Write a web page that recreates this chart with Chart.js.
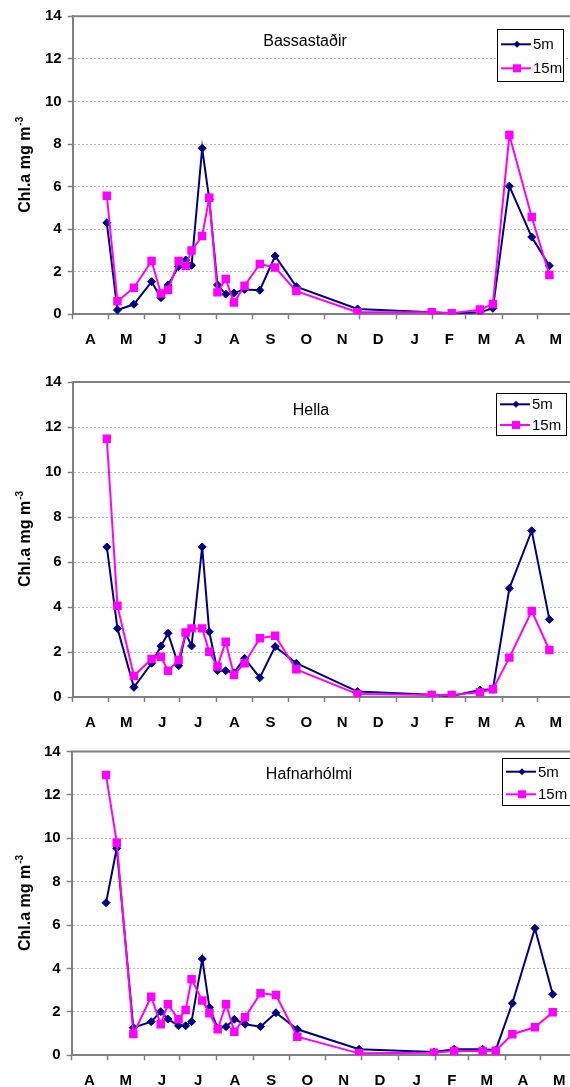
<!DOCTYPE html>
<html><head><meta charset="utf-8">
<script src="https://cdn.jsdelivr.net/npm/chart.js@4"></script>
<style>
html,body{margin:0;padding:0;background:#fff;overflow:hidden;width:570px;height:1087px;position:relative}
canvas{position:absolute;left:0}
</style></head><body>
<canvas id="c1"></canvas><canvas id="c2"></canvas><canvas id="c3"></canvas>
<script>
// ---- data ----
const sampleDays = [29, 38, 52, 67, 75, 81, 90, 96, 101, 110, 116, 123, 130, 137, 146, 159, 172, 190, 242, 305, 322, 346, 357, 371, 390, 405];
const monthStarts = [0, 30, 61, 91, 122, 153, 183, 214, 244, 275, 306, 334, 365, 395, 426];
const monthLabels = ['A','M','J','J','A','S','O','N','D','J','F','M','A','M'];
const seriesNames = ['5m', '15m'];
const stations = ['Bassastaðir', 'Hella', 'Hafnarhólmi'];
const yTitle = 'Chl.a mg m';
const yTitleSup = '-3';

const bassastadir5m  = [4.3, 0.2, 0.47, 1.53, 0.78, 1.38, 2.24, 2.55, 2.3, 7.8, 5.4, 1.38, 0.95, 1.0, 1.17, 1.13, 2.74, 1.3, 0.25, 0.1, 0.05, 0.1, 0.28, 6.02, 3.63, 2.28];
const bassastadir15m = [5.57, 0.61, 1.25, 2.5, 0.98, 1.14, 2.5, 2.27, 3.0, 3.68, 5.47, 1.03, 1.66, 0.55, 1.34, 2.36, 2.2, 1.09, 0.1, 0.1, 0.05, 0.22, 0.48, 8.42, 4.57, 1.85];
const hella5m  = [6.67, 3.05, 0.43, 1.5, 2.27, 2.83, 1.39, 2.83, 2.27, 6.67, 2.9, 1.17, 1.17, 1.08, 1.72, 0.86, 2.24, 1.5, 0.24, 0.1, 0.05, 0.31, 0.34, 4.83, 7.39, 3.45];
const hella15m = [11.48, 4.06, 0.93, 1.69, 1.79, 1.17, 1.64, 2.87, 3.05, 3.05, 2.01, 1.35, 2.46, 0.98, 1.5, 2.61, 2.72, 1.23, 0.13, 0.09, 0.09, 0.21, 0.34, 1.75, 3.82, 2.09];
const hafnarholmi5m  = [7.03, 9.54, 1.27, 1.55, 2.01, 1.67, 1.36, 1.36, 1.55, 4.44, 2.21, 1.24, 1.32, 1.66, 1.43, 1.32, 1.96, 1.2, 0.28, 0.15, 0.28, 0.28, 0.24, 2.4, 5.85, 2.81];
const hafnarholmi15m = [12.92, 9.8, 0.98, 2.7, 1.43, 2.35, 1.66, 2.09, 3.5, 2.52, 1.94, 1.2, 2.35, 1.09, 1.75, 2.86, 2.78, 0.86, 0.09, 0.12, 0.2, 0.2, 0.21, 0.97, 1.29, 1.98];

// ---- layout (page coordinates) ----
const panels = [
  {id:'c1', station:stations[0], v5:bassastadir5m, v15:bassastadir15m, top:0, h:365, w:610,
   plotTop:16.3, plotBottom:314.3, plotLeft:72.7, ppd:1.177, titleX:305, titleY:42,
   legend:{x:497, y:29, w:66, h:52, r1:44.3, r2:68.3}},
  {id:'c2', station:stations[1], v5:hella5m, v15:hella15m, top:360, h:380, w:610,
   plotTop:382, plotBottom:697, plotLeft:72.7, ppd:1.177, titleX:311, titleY:411,
   legend:{x:496, y:393, w:70, h:42, r1:404.3, r2:425}},
  {id:'c3', station:stations[2], v5:hafnarholmi5m, v15:hafnarholmi15m, top:725, h:362, w:610,
   plotTop:751.5, plotBottom:1055.3, plotLeft:71.6, ppd:1.188, titleX:309, titleY:775,
   legend:{x:502, y:758, w:70, h:47, r1:771.7, r2:794.3}}
];

const FONT = '"Liberation Sans", Arial, Helvetica, sans-serif';
Chart.defaults.font.family = FONT;
const C5 = '#000080', C15 = '#ff00ff';
const lastDay = monthStarts[monthStarts.length - 1];

const xTickValues = [];
const labelAt = new Map();
for (let i = 0; i < monthStarts.length; i++) {
  xTickValues.push(monthStarts[i]);
  if (i < monthLabels.length) {
    const mid = (monthStarts[i] + monthStarts[i+1]) / 2;
    xTickValues.push(mid);
    labelAt.set(mid, monthLabels[i]);
  }
}
const startSet = new Set(monthStarts);

function makeDecor(p) {
  return {
    id: 'decor' + p.id,
    afterDatasetsDraw(chart) {
      const ctx = chart.ctx, a = chart.chartArea, t = p.top;
      ctx.save();
      ctx.strokeStyle = '#808080'; ctx.lineWidth = 2;
      ctx.beginPath(); ctx.moveTo(a.left - 1, a.top); ctx.lineTo(a.right, a.top); ctx.stroke();
      ctx.fillStyle = '#000';
      ctx.font = '16px ' + FONT;
      ctx.textAlign = 'center'; ctx.textBaseline = 'middle';
      ctx.fillText(p.station, p.titleX, p.titleY - t);
      ctx.save();
      ctx.translate(30, (a.top + a.bottom) / 2);
      ctx.rotate(-Math.PI / 2);
      ctx.font = 'bold 16px ' + FONT;
      const mw = ctx.measureText(yTitle).width;
      ctx.font = 'bold 10px ' + FONT;
      const sw = ctx.measureText(yTitleSup).width;
      const x0 = -(mw + sw) / 2;
      ctx.textAlign = 'left'; ctx.textBaseline = 'alphabetic';
      ctx.font = 'bold 16px ' + FONT;
      ctx.fillText(yTitle, x0, 0);
      ctx.font = 'bold 10px ' + FONT;
      ctx.fillText(yTitleSup, x0 + mw + 1, -7);
      ctx.restore();
      const L = p.legend;
      ctx.fillStyle = '#fff';
      ctx.fillRect(L.x, L.y - t, L.w, L.h);
      ctx.strokeStyle = '#000'; ctx.lineWidth = 1;
      ctx.strokeRect(Math.round(L.x) + 0.5, Math.round(L.y - t) + 0.5, L.w, L.h);
      const rows = [[L.r1, C5, 'd', seriesNames[0]], [L.r2, C15, 's', seriesNames[1]]];
      rows.forEach(([ry, col, shape, name]) => {
        const y = ry - t;
        ctx.strokeStyle = col; ctx.lineWidth = 2;
        ctx.beginPath(); ctx.moveTo(L.x + 4, y); ctx.lineTo(L.x + 34, y); ctx.stroke();
        ctx.fillStyle = col;
        const mx = L.x + 20;
        if (shape === 'd') {
          ctx.beginPath(); ctx.moveTo(mx, y - 3.5); ctx.lineTo(mx + 3.5, y); ctx.lineTo(mx, y + 3.5); ctx.lineTo(mx - 3.5, y); ctx.closePath(); ctx.fill();
        } else {
          ctx.fillRect(mx - 4, y - 4, 8, 8);
        }
        ctx.fillStyle = '#000';
        ctx.font = '15px ' + FONT;
        ctx.textAlign = 'left'; ctx.textBaseline = 'middle';
        ctx.fillText(name, L.x + 36, y + 1);
      });
      ctx.restore();
    }
  };
}

panels.forEach(p => {
  const cv = document.getElementById(p.id);
  cv.width = p.w; cv.height = p.h;
  cv.style.top = p.top + 'px';
  cv.style.width = p.w + 'px'; cv.style.height = p.h + 'px';
  const wantRight = p.plotLeft + lastDay * p.ppd;
  const wantTop = p.plotTop - p.top, wantBottom = p.plotBottom - p.top;
  p.yw = p.plotLeft;
  p.xh = p.h - wantBottom;
  const ch = new Chart(cv, {
    type: 'line',
    data: {
      datasets: [
        {label: seriesNames[0], data: sampleDays.map((d, i) => ({x: d, y: p.v5[i]})),
         borderColor: C5, backgroundColor: C5, borderWidth: 2, tension: 0,
         pointStyle: 'rectRot', pointRadius: 4, pointBorderWidth: 1,
         pointBackgroundColor: C5, pointBorderColor: C5, order: 1},
        {label: seriesNames[1], data: sampleDays.map((d, i) => ({x: d, y: p.v15[i]})),
         borderColor: C15, backgroundColor: C15, borderWidth: 2, tension: 0,
         pointStyle: 'rect', pointRadius: 6, pointBorderWidth: 0,
         pointBackgroundColor: C15, pointBorderColor: C15, order: 0}
      ]
    },
    options: {
      responsive: false, animation: false, devicePixelRatio: 1,
      layout: {padding: {left: 0, top: wantTop, right: p.w - wantRight, bottom: 0}},
      plugins: {legend: {display: false}, tooltip: {enabled: false}},
      scales: {
        x: {
          type: 'linear', min: 0, max: lastDay,
          afterFit(s) { s.height = p.xh; },
          afterBuildTicks(s) { s.ticks = xTickValues.map(v => ({value: v})); },
          ticks: {autoSkip: false, maxRotation: 0, minRotation: 0, padding: 12, color: '#000',
                  font: {size: 15, weight: 'bold'},
                  callback: v => labelAt.has(v) ? labelAt.get(v) : ''},
          grid: {drawOnChartArea: false, drawTicks: true, tickLength: 5, tickWidth: 1.5,
                 tickColor: c => (c.tick && startSet.has(c.tick.value)) ? '#808080' : 'rgba(0,0,0,0)'},
          border: {color: '#808080', width: 2}
        },
        y: {
          min: 0, max: 14,
          afterFit(s) { s.width = p.yw; },
          ticks: {stepSize: 2, padding: 6, color: '#000', font: {size: 15, weight: 'bold'}},
          grid: {color: c => (c.tick && (c.tick.value === 0 || c.tick.value === 14)) ? 'rgba(0,0,0,0)' : '#b8b8b8',
                 lineWidth: 1, tickLength: 5, tickColor: '#808080', tickWidth: 1.5},
          border: {color: '#808080', width: 2, dash: [2, 2]}
        }
      }
    },
    plugins: [makeDecor(p)]
  });
  // align the scales to the measured plot frame
  for (let k = 0; k < 6; k++) {
    const xs = ch.scales.x, ys = ch.scales.y;
    const dL = xs.getPixelForValue(0) - p.plotLeft;
    const dR = xs.getPixelForValue(lastDay) - wantRight;
    const dT = ys.getPixelForValue(14) - wantTop;
    const dB = ys.getPixelForValue(0) - wantBottom;
    if (Math.abs(dL) < 0.1 && Math.abs(dR) < 0.1 && Math.abs(dT) < 0.1 && Math.abs(dB) < 0.1) break;
    const pad = ch.options.layout.padding;
    p.yw -= dL;
    p.xh += dB;
    ch.options.layout.padding = {left: 0, top: pad.top - dT, right: pad.right + dR, bottom: 0};
    ch.update('none');
  }
});
</script>
</body></html>
